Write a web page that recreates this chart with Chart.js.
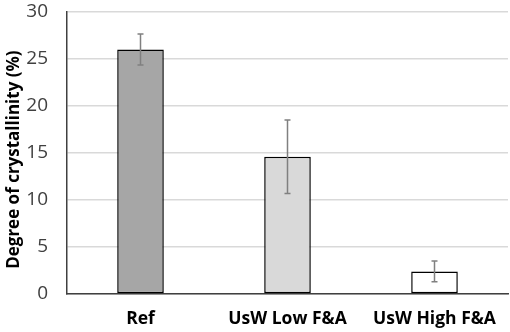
<!DOCTYPE html>
<html>
<head>
<meta charset="utf-8">
<script src="https://cdn.jsdelivr.net/npm/chart.js@4"></script>
<style>
  html, body { margin: 0; padding: 0; background: #fff; }
  #wrap { width: 510px; height: 332px; }
</style>
</head>
<body>
<div id="wrap"><canvas id="myChart" width="510" height="332"></canvas></div>
<script>
const categories = ['Ref', 'UsW Low F&A', 'UsW High F&A'];
const crystallinity = [26.0, 14.6, 2.4];
const errors = [1.65, 3.9, 1.1];
const barColors = ['#a6a6a6', '#d9d9d9', '#ffffff'];
const yTicks = [0, 5, 10, 15, 20, 25, 30];

// draws the +/- error whiskers on top of the bars
const errorBars = {
    id: 'errorBars',
    afterDatasetsDraw(chart) {
        const ctx = chart.ctx;
        const yScale = chart.scales.y;
        const meta = chart.getDatasetMeta(0);
        ctx.save();
        ctx.strokeStyle = '#808080';
        ctx.lineWidth = 1.5;
        meta.data.forEach((bar, idx) => {
            const v = crystallinity[idx];
            const e = errors[idx];
            const top = yScale.getPixelForValue(v + e);
            const bot = yScale.getPixelForValue(v - e);
            ctx.beginPath();
            ctx.moveTo(bar.x, top);
            ctx.lineTo(bar.x, bot);
            ctx.moveTo(bar.x - 3, top);
            ctx.lineTo(bar.x + 3, top);
            ctx.moveTo(bar.x - 3, bot);
            ctx.lineTo(bar.x + 3, bot);
            ctx.stroke();
        });
        ctx.restore();
    }
};

const ctx = document.getElementById('myChart');

var chart = new Chart(ctx, {
    type: 'bar',
    data: {
        labels: categories,
        datasets: [{
            data: crystallinity,
            backgroundColor: barColors,
            borderColor: '#000000',
            borderWidth: 1.5,
            borderSkipped: false,
            barPercentage: 0.317,
            categoryPercentage: 1.0
        }]
    },
    options: {
        responsive: false,
        animation: false,
        layout: { padding: { top: 12, right: 2, left: 0, bottom: 0 } },
        plugins: {
            legend: { display: false },
            tooltip: { enabled: false }
        },
        scales: {
            x: {
                grid: { display: false, drawTicks: false },
                border: { color: '#404040', width: 1.5 },
                ticks: {
                    color: '#000000',
                    padding: 15,
                    font: { family: 'Open Sans', size: 17.5, weight: 'bold' }
                },
                afterFit: (scale) => {
                    scale.height = 38;
                    scale.paddingLeft = 0;
                    scale.paddingRight = 0;
                }
            },
            y: {
                min: 0,
                max: 30,
                afterBuildTicks: (scale) => { scale.ticks = yTicks.map(v => ({ value: v })); },
                grid: { color: '#d9d9d9', lineWidth: 1.5, drawTicks: false },
                border: { color: '#404040', width: 1.5 },
                ticks: {
                    color: '#404040',
                    padding: 19,
                    font: { family: 'Open Sans', size: 19 }
                },
                title: {
                    display: true,
                    text: 'Degree of crystallinity (%)   ',
                    color: '#000000',
                    padding: { top: 4, bottom: 0 },
                    font: { family: 'Open Sans', size: 17, weight: 'bold' }
                },
                afterFit: (scale) => {
                    scale.width = 67;
                    scale.paddingTop = 0;
                    scale.paddingBottom = 0;
                }
            }
        }
    },
    plugins: [errorBars]
});
</script>
</body>
</html>
